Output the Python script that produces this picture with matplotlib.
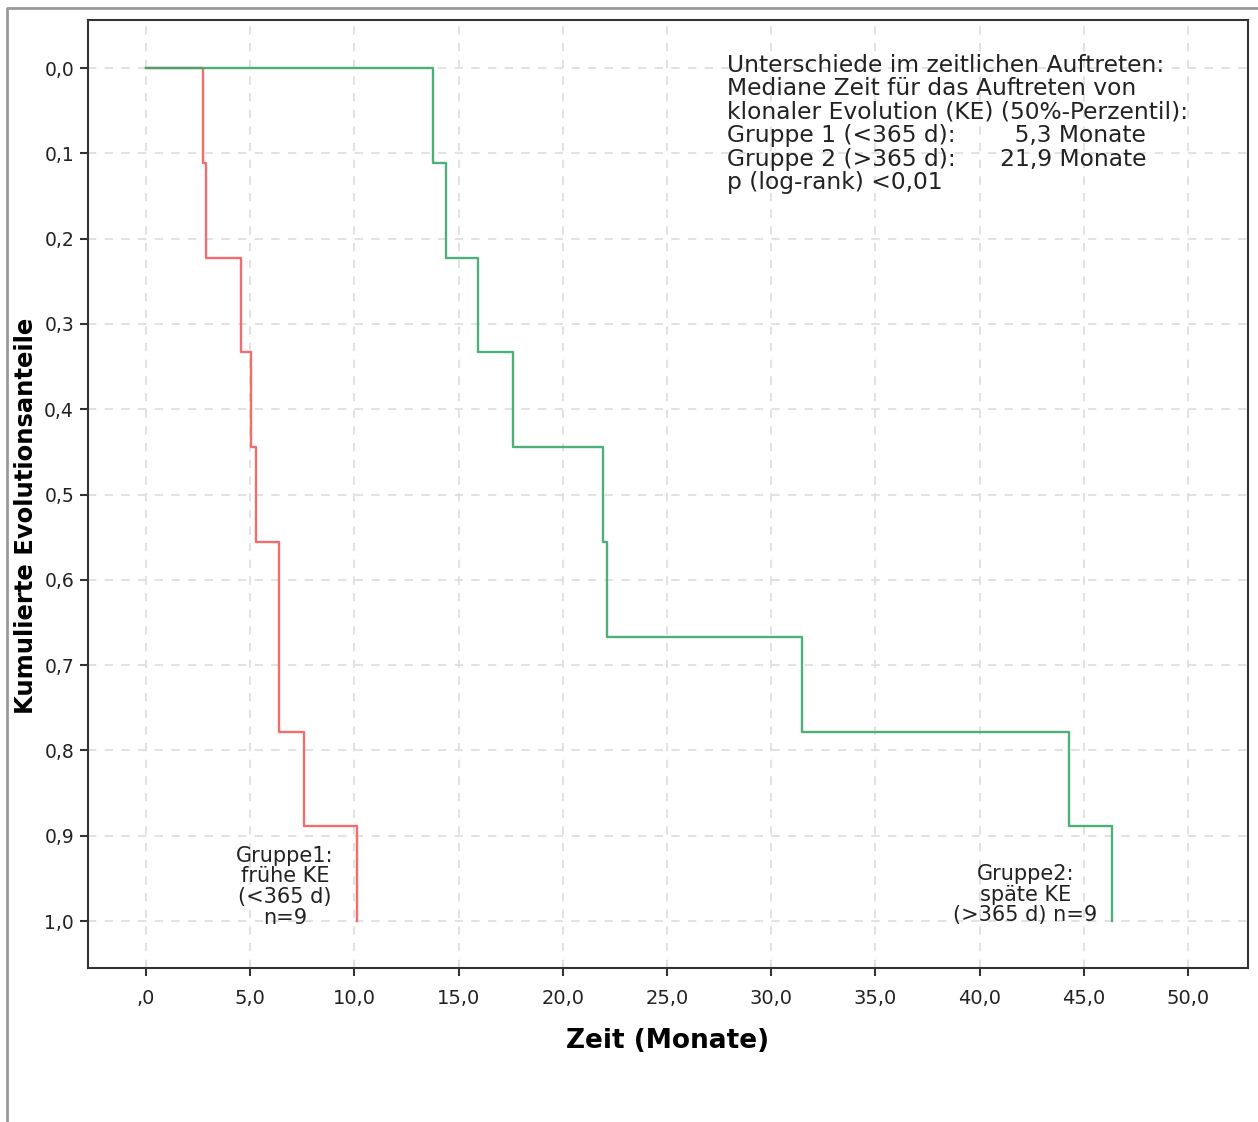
import numpy as np
import matplotlib.pyplot as plt
from matplotlib.lines import Line2D

# Event times (months) and number of events at each time, n=9 per group
n_per_group = 9
gruppe1_zeit = [2.75, 2.9, 4.56, 5.04, 5.28, 6.38, 7.58, 10.12]
gruppe1_ereignisse = [1, 1, 1, 1, 1, 2, 1, 1]
gruppe2_zeit = [13.77, 14.4, 15.93, 17.6, 21.93, 22.12, 31.5, 44.3, 46.35]
gruppe2_ereignisse = [1, 1, 1, 1, 1, 1, 1, 1, 1]

x_ticks = [0, 5, 10, 15, 20, 25, 30, 35, 40, 45, 50]
x_ticklabels = [',0', '5,0', '10,0', '15,0', '20,0', '25,0', '30,0',
                '35,0', '40,0', '45,0', '50,0']
y_ticks = [0.0, 0.1, 0.2, 0.3, 0.4, 0.5, 0.6, 0.7, 0.8, 0.9, 1.0]
y_ticklabels = ['0,0', '0,1', '0,2', '0,3', '0,4', '0,5', '0,6', '0,7',
                '0,8', '0,9', '1,0']

info_text = ("Unterschiede im zeitlichen Auftreten:\n"
             "Mediane Zeit für das Auftreten von\n"
             "klonaler Evolution (KE) (50%-Perzentil):\n"
             "Gruppe 1 (<365 d):        5,3 Monate\n"
             "Gruppe 2 (>365 d):      21,9 Monate\n"
             "p (log-rank) <0,01")

rot = '#f26d6d'
gruen = '#3aa86b'
schrift = 'DejaVu Sans'


def kumuliert(zeit, ereignisse):
    t = np.concatenate([[0.0], zeit])
    y = np.concatenate([[0.0], np.cumsum(ereignisse) / n_per_group])
    return t, y


fig = plt.figure(figsize=(12.58, 11.22), dpi=100)
ax = fig.add_axes([88 / 1258, 1 - 968 / 1122, 1160 / 1258, 948 / 1122])

t1, y1 = kumuliert(gruppe1_zeit, gruppe1_ereignisse)
t2, y2 = kumuliert(gruppe2_zeit, gruppe2_ereignisse)
ax.step(t1, y1, where='post', color=rot, lw=1.7, zorder=3)
ax.step(t2, y2, where='post', color=gruen, lw=1.7, zorder=3, alpha=0.9)

ax.set_xlim(-2.78, 52.88)
ax.set_ylim(1.055, -0.0563)
ax.set_xticks(x_ticks)
ax.set_xticklabels(x_ticklabels)
ax.set_yticks(y_ticks)
ax.set_yticklabels(y_ticklabels)
ax.tick_params(direction='out', length=6, width=1.5, color='#333333',
               labelsize=14, labelcolor='#222222', pad=6)
ax.tick_params(axis='x', pad=9)
ax.tick_params(axis='y', labelsize=13.5, pad=4)
ax.grid(True, ls=(0, (5, 5)), color='#dddddd', lw=1.2, zorder=0)
for s in ax.spines.values():
    s.set_linewidth(1.5)
    s.set_color('#333333')

ax.set_xlabel('Zeit (Monate)', fontsize=19, fontweight='bold', family=schrift)
ax.set_ylabel('Kumulierte Evolutionsanteile', fontsize=17.5, fontweight='bold',
              family=schrift)
ax.xaxis.set_label_coords(0.5, -0.063)
ax.yaxis.set_label_coords(-0.043, 0.477)

ax.text(27.88, -0.017, info_text, fontsize=16.8, family=schrift,
        va='top', ha='left', color='#222222', linespacing=1.03)
ax.text(6.67, 1.008, 'Gruppe1:\nfrühe KE\n(<365 d)\nn=9', fontsize=15,
        family=schrift, ha='center', va='bottom', color='#222222',
        linespacing=1.05)
ax.text(42.2, 1.005, 'Gruppe2:\nspäte KE\n(>365 d) n=9', fontsize=15,
        family=schrift, ha='center', va='bottom', color='#222222',
        linespacing=1.05)

# grey outer frame on the top and left edges
fig.add_artist(Line2D([7 / 1258, 7 / 1258, 1.0], [0.0, 1 - 8 / 1122, 1 - 8 / 1122],
                      transform=fig.transFigure, color='#999999', lw=2))

fig.savefig('out.png', dpi=100)
